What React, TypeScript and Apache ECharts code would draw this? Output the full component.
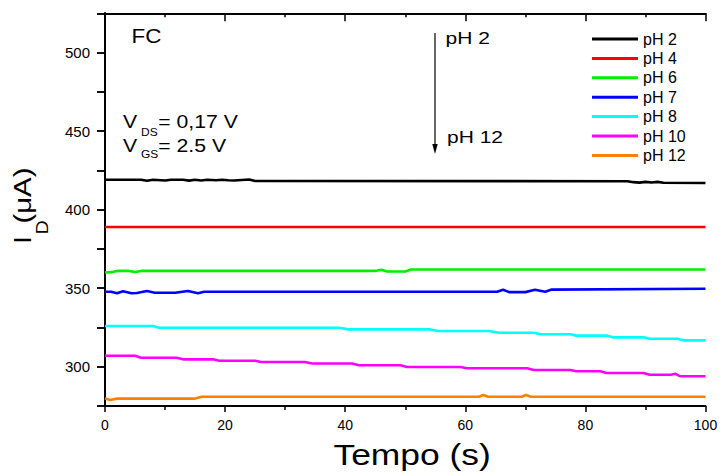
import React, { useEffect, useRef } from "react";
import * as echarts from "echarts";

const FONT = "Liberation Sans";

const seriesNames = ["pH 2", "pH 4", "pH 6", "pH 7", "pH 8", "pH 10", "pH 12"];
const seriesColors = ["#000000", "#ff0000", "#00ee00", "#0000ff", "#00ffff", "#ff00ff", "#ff8000"];

const ph2T = [0, 6, 7, 8, 10, 11, 13, 14, 15, 16, 17, 18.5, 19.5, 20.5, 21.5, 24, 25, 87, 88, 89, 90, 91, 92, 93, 100];
const ph2V = [419, 419, 418.4, 419, 418.6, 419, 419, 418.5, 419, 418.6, 419, 418.7, 419, 418.7, 418.6, 419.2, 418.2, 418.1, 417.5, 417.2, 417.7, 417.3, 417.7, 417.1, 417.0];

const ph4T = [0, 100];
const ph4V = [389, 389];

const ph6T = [0, 1, 2, 4, 5, 6, 45, 46, 47, 50, 51, 100];
const ph6V = [360, 360.2, 361, 361, 360.3, 361, 361, 361.8, 360.6, 360.6, 361.9, 361.9];

const ph7T = [0, 1, 2, 3, 4.4, 5.3, 7, 8.3, 11.7, 13.8, 15.5, 16.5, 65.3, 66.3, 67.3, 70, 71.6, 73.3, 74.4, 100];
const ph7V = [347.7, 347.7, 346.8, 348.1, 346.8, 346.9, 348.2, 347.1, 347.1, 348.2, 346.8, 347.7, 347.7, 349.0, 347.5, 347.5, 349.0, 347.7, 349.1, 349.6];

const ph8T = [0, 8, 9, 39, 40.5, 54, 55.5, 64, 65.5, 71.4, 72.5, 77.5, 78.5, 83.6, 84.6, 89.7, 90.7, 95.3, 96.3, 100];
const ph8V = [325.9, 325.9, 324.8, 324.8, 323.8, 323.8, 322.7, 322.7, 321.6, 321.6, 320.7, 320.7, 319.8, 319.8, 318.7, 318.7, 317.8, 317.8, 316.8, 316.8];

const ph10T = [0, 5, 6, 11.9, 13, 18, 19, 25, 26, 33.3, 34.5, 41.1, 42.3, 49.2, 50.3, 59.2, 60.3, 70.3, 71.4, 77.5, 78.5, 82.5, 83.5, 89.7, 90.7, 94.2, 95, 95.8, 100];
const ph10V = [307, 307, 305.7, 305.7, 304.7, 304.7, 303.8, 303.8, 303, 303, 302.1, 302.1, 300.9, 300.9, 299.8, 299.8, 299, 299, 297.9, 297.9, 297.1, 297.1, 296, 296, 294.9, 294.9, 295.5, 293.9, 293.9];

const ph12T = [0, 0.8, 2, 15, 16.1, 62.3, 63, 63.8, 69.4, 70.1, 70.9, 100];
const ph12V = [279.9, 278.8, 279.7, 279.7, 280.9, 280.9, 282, 280.9, 280.9, 282, 280.9, 280.9];

const seriesT = [ph2T, ph4T, ph6T, ph7T, ph8T, ph10T, ph12T];
const seriesV = [ph2V, ph4V, ph6V, ph7V, ph8V, ph10V, ph12V];

const xMin = 0;
const xMax = 100;
const xStep = 20;
const yMin = 275;
const yMax = 525;
const yStep = 25;
const yLabelStep = 50;

function txt(text: string, x: number, y: number, size: number, sx: number) {
  return {
    type: "text",
    x,
    y,
    scaleX: sx,
    style: {
      text,
      fontSize: size,
      fontFamily: FONT,
      fill: "#000",
      align: "left",
      verticalAlign: "middle",
    },
  };
}

export default function App() {
  const ref = useRef<HTMLDivElement>(null);
  useEffect(() => {
    if (!ref.current) return;
    const chart = echarts.init(ref.current, undefined, { renderer: "svg" });
    const axisLine = { show: true, lineStyle: { color: "#000", width: 2 } };
    const tickStyle = { color: "#000", width: 1.5 };
    const option: any = {
      animation: false,
      backgroundColor: "#fff",
      grid: { left: 105, right: 15.5, top: 13.3, bottom: 68 },
      legend: {
        orient: "vertical",
        left: 587,
        top: 24.3,
        itemWidth: 46,
        itemHeight: 3,
        itemGap: 0,
        icon: "rect",
        selectedMode: false,
        data: seriesNames,
        textStyle: { fontSize: 16, fontFamily: FONT, color: "#000", lineHeight: 19.4 },
      },
      xAxis: [
        {
          type: "value",
          position: "bottom",
          min: xMin,
          max: xMax,
          interval: xStep,
          axisLine,
          axisTick: { show: true, inside: false, length: 6, lineStyle: tickStyle },
          minorTick: { show: true, splitNumber: 2, length: 4, lineStyle: tickStyle },
          axisLabel: { fontSize: 14, fontFamily: FONT, color: "#000", margin: 12 },
          splitLine: { show: false },
        },
        {
          type: "value",
          position: "top",
          min: xMin,
          max: xMax,
          interval: xStep,
          axisLine,
          axisTick: { show: true, inside: true, length: 8, lineStyle: tickStyle },
          minorTick: { show: true, splitNumber: 2, length: 4, lineStyle: tickStyle },
          axisLabel: { show: false },
          splitLine: { show: false },
        },
      ],
      yAxis: [
        {
          type: "value",
          position: "left",
          min: yMin,
          max: yMax,
          interval: yStep,
          axisLine,
          axisTick: { show: true, inside: false, length: 8, lineStyle: tickStyle },
          axisLabel: {
            fontSize: 15,
            fontFamily: FONT,
            color: "#000",
            margin: 15,
            formatter: (v: number) => (v % yLabelStep === 0 ? String(v) : ""),
          },
          splitLine: { show: false },
        },
        {
          type: "value",
          position: "right",
          min: yMin,
          max: yMax,
          interval: yStep,
          axisLine,
          axisTick: { show: true, inside: true, length: 8, lineStyle: tickStyle },
          axisLabel: { show: false },
          splitLine: { show: false },
        },
      ],
      series: seriesNames.map((name, i) => ({
        name,
        type: "line",
        xAxisIndex: 0,
        yAxisIndex: 0,
        symbol: "none",
        showSymbol: false,
        color: seriesColors[i],
        lineStyle: { width: 2.6, color: seriesColors[i] },
        data: seriesT[i].map((t, j) => [t, seriesV[i][j]]),
      })),
      graphic: [
        txt("FC", 131.5, 35.5, 20, 1.12),
        txt("V", 123, 121.7, 18.6, 1.14),
        txt("DS", 141, 132.5, 10.5, 1.14),
        txt("= 0,17 V", 158.3, 121.7, 18.6, 1.14),
        txt("V", 123, 145, 18.6, 1.14),
        txt("GS", 141, 154, 10.5, 1.14),
        txt("= 2.5 V", 158.3, 145, 18.6, 1.14),
        txt("pH 2", 445.5, 37.8, 17.2, 1.22),
        txt("pH 12", 447, 137.5, 17.2, 1.22),
        {
          type: "line",
          shape: { x1: 435, y1: 33, x2: 435, y2: 146 },
          style: { stroke: "#000", lineWidth: 1.2 },
        },
        {
          type: "polygon",
          shape: { points: [[432.3, 144], [437.7, 144], [435, 154]] },
          style: { fill: "#000" },
        },
        txt("Tempo (s)", 333.5, 454, 30, 1.18),
        {
          type: "group",
          x: 23,
          y: 244,
          rotation: Math.PI / 2,
          children: [
            txt("I", 0, 0, 24, 1.19),
            txt("D", 9.7, 19.5, 16, 1.2),
            txt("(μA)", 20.5, 0, 24, 1.22),
          ],
        },
      ],
    };
    chart.setOption(option);
    return () => chart.dispose();
  }, []);
  return (
    <div
      ref={ref}
      style={{ position: "fixed", left: 0, top: 0, width: 721, height: 474, background: "#fff" }}
    />
  );
}
